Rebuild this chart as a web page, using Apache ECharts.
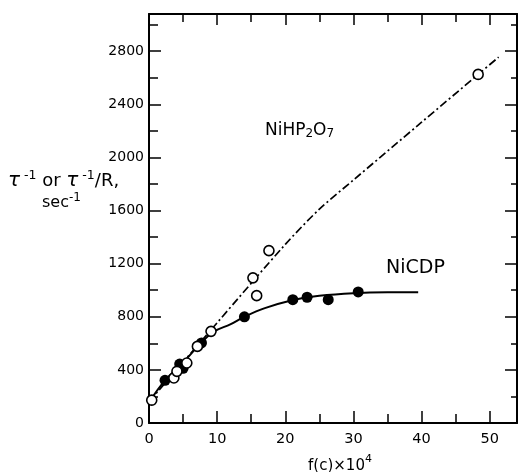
<!DOCTYPE html>
<html><head><meta charset="utf-8">
<script src="https://cdn.jsdelivr.net/npm/echarts@6/dist/echarts.min.js"></script>
<style>html,body{margin:0;padding:0;background:#fff}#c{width:520px;height:472px}</style>
</head><body><div id="c"></div>
<script>
// NiHP2O7 (open circles)
const nihpX = [0.4, 3.65, 4.1, 5.55, 7.1, 9.1, 15.25, 15.8, 17.6, 48.3];
const nihpY = [172, 339, 389, 452, 577, 690, 1093, 959, 1298, 2625];
// NiCDP (filled circles)
const nicdpX = [2.35, 4.5, 5.0, 7.7, 14.0, 21.1, 23.2, 26.3, 30.7];
const nicdpY = [321, 444, 412, 603, 800, 929, 947, 929, 987];
// drawn curves
const nihpFitX = [0, 10, 20, 25, 30, 40, 48.3, 51.3];
const nihpFitY = [160, 755, 1345, 1610, 1830, 2265, 2625, 2755];
const nicdpFitX = [0, 2.35, 5, 7.7, 9.5, 12, 14, 17, 21, 25, 30, 35, 39.5];
const nicdpFitY = [155, 321, 455, 607, 688, 745, 800, 865, 925, 958, 978, 984, 984];
// tick labels
const xTickLabels = [0, 10, 20, 30, 40, 50];
const yTickLabels = [0, 400, 800, 1200, 1600, 2000, 2400, 2800];

const FONT = 'DejaVu Sans';
const pair = (xs, ys) => xs.map((x, i) => [x, ys[i]]);

function xAx(pos, interval, len, showLine, showLabel) {
  return {
    type: 'value', position: pos, min: 0, max: 54, interval: interval,
    axisLine: { show: showLine, onZero: false, lineStyle: { color: '#000', width: 2 } },
    axisTick: { show: true, inside: true, length: len, lineStyle: { color: '#000', width: 1.5 } },
    axisLabel: showLabel ? {
      show: true, color: '#000', fontFamily: FONT, fontSize: 14.5, margin: 9,
      formatter: v => xTickLabels.indexOf(v) >= 0 ? String(v) : ''
    } : { show: false },
    splitLine: { show: false }
  };
}
function yAx(pos, interval, len, showLine, showLabel) {
  return {
    type: 'value', position: pos, min: 0, max: 3080, interval: interval,
    axisLine: { show: showLine, onZero: false, lineStyle: { color: '#000', width: 2 } },
    axisTick: { show: true, inside: true, length: len, lineStyle: { color: '#000', width: 1.5 } },
    axisLabel: showLabel ? {
      show: true, color: '#000', fontFamily: FONT, fontSize: 14, margin: 5,
      formatter: v => yTickLabels.indexOf(v) >= 0 ? String(v) : ''
    } : { show: false },
    splitLine: { show: false }
  };
}

const chart = echarts.init(document.getElementById('c'), null, { renderer: 'canvas' });
chart.setOption({
  animation: false,
  backgroundColor: '#fff',
  grid: { left: 149, top: 14, width: 369, height: 409, containLabel: false },
  xAxis: [
    xAx('bottom', 10, 12, true, true),
    xAx('bottom', 5, 9, false, false),
    xAx('top', 10, 11, true, false),
    xAx('top', 5, 8, false, false)
  ],
  yAxis: [
    yAx('left', 400, 12, true, true),
    yAx('left', 200, 9, false, false),
    yAx('right', 400, 12, true, false),
    yAx('right', 200, 6, false, false)
  ],
  series: [
    {
      type: 'line', xAxisIndex: 0, yAxisIndex: 0, data: pair(nihpFitX, nihpFitY),
      showSymbol: false, smooth: 0.3, z: 2,
      lineStyle: { color: '#000', width: 1.7, type: [8, 3, 2, 3], opacity: 1 }
    },
    {
      type: 'line', xAxisIndex: 0, yAxisIndex: 0, data: pair(nicdpFitX, nicdpFitY),
      showSymbol: false, smooth: 0.4, z: 2,
      lineStyle: { color: '#000', width: 2, opacity: 1 }
    },
    {
      type: 'scatter', xAxisIndex: 0, yAxisIndex: 0, data: pair(nicdpX, nicdpY),
      symbol: 'circle', symbolSize: 11, z: 3,
      itemStyle: { color: '#000', opacity: 1 }
    },
    {
      type: 'scatter', xAxisIndex: 0, yAxisIndex: 0, data: pair(nihpX, nihpY),
      symbol: 'circle', symbolSize: 10, z: 4,
      itemStyle: { color: '#fff', borderColor: '#000', borderWidth: 1.6, opacity: 1 }
    }
  ],
  graphic: [
    {
      type: 'text', x: 8, y: 180, z: 10,
      style: {
        text: '{t|τ}{s| -1}{m| or }{t|τ}{s| -1}{m|/R,}',
        verticalAlign: 'middle', align: 'left',
        rich: {
          m: { fontFamily: FONT, fontSize: 18, lineHeight: 21, verticalAlign: 'bottom', fill: '#000' },
          t: { fontFamily: FONT, fontSize: 20, fontStyle: 'italic', lineHeight: 21, verticalAlign: 'bottom', fill: '#000' },
          s: { fontFamily: FONT, fontSize: 12.5, lineHeight: 13, verticalAlign: 'top', fill: '#000' }
        }
      }
    },
    {
      type: 'text', x: 42, y: 201, z: 10,
      style: {
        text: '{m|sec}{s|-1}',
        verticalAlign: 'middle', align: 'left',
        rich: {
          m: { fontFamily: FONT, fontSize: 16, lineHeight: 19, verticalAlign: 'bottom', fill: '#000' },
          s: { fontFamily: FONT, fontSize: 12, lineHeight: 13, verticalAlign: 'top', fill: '#000' }
        }
      }
    },
    {
      type: 'text', x: 340, y: 464, z: 10,
      style: {
        text: '{m|f(c)×10}{s|4}',
        verticalAlign: 'middle', align: 'center',
        rich: {
          m: { fontFamily: FONT, fontSize: 15, lineHeight: 20, verticalAlign: 'bottom', fill: '#000' },
          s: { fontFamily: FONT, fontSize: 11, lineHeight: 12, verticalAlign: 'top', fill: '#000' }
        }
      }
    },
    {
      type: 'text', x: 265, y: 131, z: 10,
      style: {
        text: '{m|NiHP}{b|2}{m|O}{b|7}',
        verticalAlign: 'middle', align: 'left',
        rich: {
          m: { fontFamily: FONT, fontSize: 17, lineHeight: 18, verticalAlign: 'top', fill: '#000' },
          b: { fontFamily: FONT, fontSize: 12, lineHeight: 12, padding: [10, 0, 0, 0], verticalAlign: 'bottom', fill: '#000' }
        }
      }
    },
    {
      type: 'text', x: 386, y: 268, z: 10,
      style: {
        text: 'NiCDP', verticalAlign: 'middle', align: 'left',
        fontFamily: FONT, fontSize: 19, fill: '#000'
      }
    }
  ]
});
</script>
</body></html>
